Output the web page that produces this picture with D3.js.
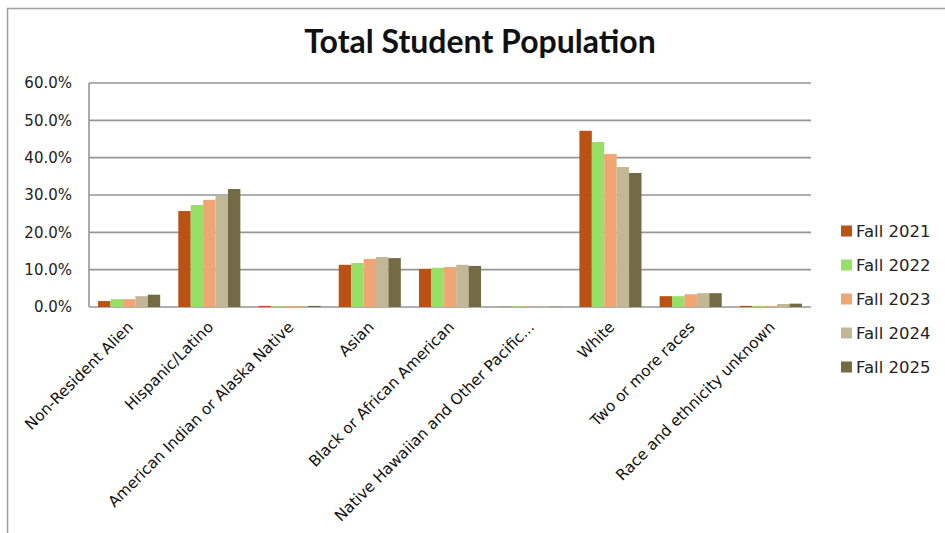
<!DOCTYPE html>
<html>
<head>
<meta charset="utf-8">
<script src="https://cdn.jsdelivr.net/npm/d3@7"></script>
<style>
    body { margin: 0; background: #fff; }
    svg { display: block; }
</style>
</head>
<body>
<script>
// Data (percent of total student population)
var categories = ["Non-Resident Alien", "Hispanic/Latino",
    "American Indian or Alaska Native", "Asian", "Black or African American",
    "Native Hawaiian and Other Pacific...", "White", "Two or more races",
    "Race and ethnicity unknown"];
var seriesNames = ["Fall 2021", "Fall 2022", "Fall 2023", "Fall 2024", "Fall 2025"];
var fall2021 = [1.6, 25.7, 0.3, 11.3, 10.2, 0.05, 47.2, 2.9, 0.3];
var fall2022 = [2.1, 27.3, 0.2, 11.8, 10.5, 0.2, 44.2, 2.9, 0.2];
var fall2023 = [2.1, 28.7, 0.2, 12.9, 10.7, 0.2, 41.0, 3.4, 0.3];
var fall2024 = [2.9, 29.8, 0.2, 13.4, 11.3, 0.2, 37.5, 3.7, 0.8];
var fall2025 = [3.3, 31.6, 0.3, 13.1, 11.0, 0.05, 35.9, 3.7, 0.9];
var yTicks = [0, 10, 20, 30, 40, 50, 60];
var colors = ["#BA5215", "#96E066", "#F0A574", "#C2B896", "#746A44"];

var seriesValues = [fall2021, fall2022, fall2023, fall2024, fall2025];

// margins around the plot area
var margin = {top: 83, right: 134, bottom: 226, left: 89},
    width = 945 - margin.left - margin.right,
    height = 533 - margin.top - margin.bottom;

var root = d3.select("body").append("svg")
    .attr("width", 945)
    .attr("height", 533);

// outer chart frame (runs off the right and bottom edge)
root.append("rect")
    .attr("x", 7.5)
    .attr("y", 8.5)
    .attr("width", 1000)
    .attr("height", 600)
    .attr("fill", "none")
    .attr("stroke", "#a0a0a0")
    .attr("stroke-width", 1.5);

root.append("text")
    .attr("x", 480)
    .attr("y", 53)
    .attr("text-anchor", "middle")
    .attr("font-family", "Lato, 'DejaVu Sans', sans-serif")
    .attr("font-weight", "bold")
    .attr("font-size", "32px")
    .attr("fill", "#111")
    .text("Total Student Population");

var svg = root.append("g")
    .attr("transform", "translate(" + margin.left + "," + margin.top + ")");

var xScale = d3.scaleBand().domain(categories).range([0, width]).paddingInner(0.226).paddingOuter(0.113);
var xSub = d3.scaleBand().domain(seriesNames).range([0, xScale.bandwidth()]);
var yScale = d3.scaleLinear().domain([0, 60]).range([height, 0]);

// gridlines
svg.append("g")
    .selectAll("line")
    .data(yTicks)
    .enter()
    .append("line")
    .attr("x1", 0)
    .attr("x2", width)
    .attr("y1", function(d) { return yScale(d); })
    .attr("y2", function(d) { return yScale(d); })
    .attr("stroke", "#969696")
    .attr("stroke-width", 1.6);

// left axis line
svg.append("line")
    .attr("x1", 0).attr("x2", 0)
    .attr("y1", 0).attr("y2", height)
    .attr("stroke", "#969696")
    .attr("stroke-width", 1.6);

// y tick labels
var yAxis = d3.axisLeft(yScale)
    .tickValues(yTicks)
    .tickSize(0)
    .tickPadding(17)
    .tickFormat(function(d) { return d.toFixed(1) + "%"; });

svg.append("g")
    .call(yAxis)
    .call(function(g) { g.select(".domain").remove(); })
    .selectAll("text")
    .attr("font-family", "'DejaVu Sans', sans-serif")
    .attr("font-size", "15px")
    .attr("fill", "#222");

// bars, one group per category
var groups = svg.selectAll(".cat")
    .data(categories)
    .enter()
    .append("g")
    .attr("class", "cat")
    .attr("transform", function(d) { return "translate(" + xScale(d) + ",0)"; });

groups.selectAll("rect")
    .data(function(d, i) {
        return seriesNames.map(function(s, j) {
            return {key: s, value: seriesValues[j][i], color: colors[j]};
        });
    })
    .enter()
    .append("rect")
    .attr("x", function(d) { return xSub(d.key); })
    .attr("y", function(d) { return yScale(d.value); })
    .attr("width", xSub.bandwidth())
    .attr("height", function(d) { return height - yScale(d.value); })
    .attr("fill", function(d) { return d.color; });

// x axis labels rotated -45 degrees
var xAxis = d3.axisBottom(xScale).tickSize(0).tickPadding(0);

svg.append("g")
    .attr("transform", "translate(0," + height + ")")
    .call(xAxis)
    .call(function(g) { g.select(".domain").remove(); })
    .selectAll("text")
    .attr("font-family", "'DejaVu Sans', sans-serif")
    .attr("font-size", "15.3px")
    .attr("fill", "#111")
    .attr("dy", null)
    .attr("y", 0)
    .style("text-anchor", "end")
    .attr("transform", "translate(5,21) rotate(-45)");

// legend
var legend = root.append("g")
    .attr("transform", "translate(841,231)");

var items = legend.selectAll("g")
    .data(seriesNames)
    .enter()
    .append("g")
    .attr("transform", function(d, i) { return "translate(0," + (i * 34) + ")"; });

items.append("rect")
    .attr("x", 0)
    .attr("y", -5.5)
    .attr("width", 11)
    .attr("height", 11)
    .attr("fill", function(d, i) { return colors[i]; });

items.append("text")
    .attr("x", 15)
    .attr("y", 0)
    .attr("dy", "0.35em")
    .attr("font-family", "'DejaVu Sans', sans-serif")
    .attr("font-size", "16.5px")
    .attr("fill", "#222")
    .text(function(d) { return d; });
</script>
</body>
</html>
